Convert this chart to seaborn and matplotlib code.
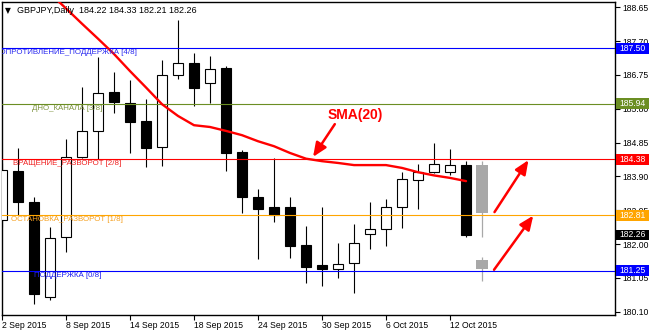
import numpy as np
import pandas as pd
import matplotlib
matplotlib.use("Agg")
import matplotlib.pyplot as plt
import seaborn as sns
from matplotlib.patches import Rectangle
from matplotlib.transforms import blended_transform_factory

sns.set_theme(style="white")
plt.rcParams['font.family'] = ['Liberation Sans', 'DejaVu Sans']

# ---------------- data ----------------
opens  = [182.68, 184.05, 183.18, 180.51, 182.20, 184.45, 185.18, 186.27, 185.96, 185.46,
          184.73, 186.75, 187.09, 186.52, 186.95, 184.59, 183.32, 183.04, 183.04, 181.97,
          181.41, 181.30, 181.47, 182.28, 182.42, 183.04, 183.80, 184.02, 184.02, 184.22]
highs  = [184.28, 184.70, 183.32, 182.48, 184.95, 186.41, 187.25, 186.83, 186.61, 186.07,
          187.17, 188.29, 187.37, 187.28, 187.00, 184.64, 183.55, 184.42, 183.32, 182.51,
          183.04, 182.03, 182.56, 183.18, 183.26, 184.02, 184.25, 184.84, 184.67, 184.33]
lows   = [182.48, 182.82, 180.32, 180.43, 181.78, 184.42, 184.39, 185.68, 184.56, 184.16,
          184.19, 186.64, 185.88, 185.96, 184.05, 182.87, 181.58, 182.62, 181.61, 180.91,
          180.82, 181.05, 180.62, 181.86, 181.95, 182.45, 182.98, 184.00, 183.94, 182.21]
closes = [184.08, 183.18, 180.60, 182.17, 184.45, 185.18, 186.24, 185.99, 185.43, 184.70,
          186.75, 187.09, 186.38, 186.92, 184.56, 183.32, 182.98, 182.82, 181.95, 181.35,
          181.30, 181.44, 182.03, 182.42, 183.04, 183.83, 184.02, 184.25, 184.22, 182.26]

sma_index = list(range(2, 30))
sma_values = [189.46, 189.04, 188.62, 188.19, 187.77, 187.34, 186.86, 186.40, 185.93, 185.60,
              185.34, 185.29, 185.18, 185.06, 184.89, 184.75, 184.56, 184.40, 184.33, 184.28,
              184.22, 184.22, 184.22, 184.14, 184.02, 183.93, 183.86, 183.77]

# projected (grey) candles
proj_index = [30, 30]
proj_top = [184.22, 181.55]
proj_bottom = [182.87, 181.31]
proj_high = [184.33, 181.65]
proj_low = [182.21, 180.97]

levels = [187.50, 185.94, 184.38, 182.81, 181.25]
level_names = ['СОПРОТИВЛЕНИЕ_ПОДДЕРЖКА [4/8]', 'ДНО_КАНАЛА [3/8]',
               'ВРАЩЕНИЕ_РАЗВОРОТ [2/8]', 'ОСТАНОВКА_РАЗВОРОТ [1/8]', 'ПОДДЕРЖКА [0/8]']
level_colors = ['#0000FF', '#6B8E23', '#FF0000', '#FFA500', '#0000FF']
level_text_colors = ['#2A2AF0', '#7F9440', '#F02020', '#F5A020', '#2020F0']
level_label_x = [-0.52, 1.85, 0.68, 0.56, 1.98]

last_price = 182.26

tick_pos = [0, 4, 8, 12, 16, 20, 24, 28]
tick_labels = ['2 Sep 2015', '8 Sep 2015', '14 Sep 2015', '18 Sep 2015',
               '24 Sep 2015', '30 Sep 2015', '6 Oct 2015', '12 Oct 2015']
ytick_vals = [188.65, 187.70, 186.75, 185.80, 184.85, 183.90, 182.95, 182.00, 181.05, 180.10]

header = 'GBPJPY,Daily  184.22 184.33 182.21 182.26'

# arrows: (start, end) in data coordinates
arrow_starts = [(30.78, 182.90), (30.75, 181.28)]
arrow_ends = [(32.9, 184.36), (33.2, 182.80)]
sma_label_pos = (22.1, 185.62)
sma_arrow_start = (20.8, 185.37)
sma_arrow_end = (19.44, 184.45)

# ---------------- figure ----------------
W, H = 650, 331
fig = plt.figure(figsize=(W / 100, H / 100), dpi=100)
fig.patch.set_facecolor('white')
ax = fig.add_axes([1.5 / W, 1 - 315 / H, 613.5 / W, 313 / H])
ax.set_facecolor('white')

df = pd.DataFrame({'i': range(len(opens)), 'o': opens, 'h': highs, 'l': lows, 'c': closes})
df['bull'] = df['c'] >= df['o']
df['bottom'] = df[['o', 'c']].min(axis=1)
df['height'] = (df['c'] - df['o']).abs()

bw = 0.66
ax.vlines(df['i'], df['l'], df['h'], color='black', lw=0.8, zorder=2)
ax.bar(df['i'], df['height'].clip(lower=0.02), bottom=df['bottom'], width=bw,
       color=np.where(df['bull'], 'white', 'black'), edgecolor='black', linewidth=0.8, zorder=3)

# projected grey candles
ax.vlines(proj_index, proj_low, proj_high, color='#A8A8A8', lw=0.9, zorder=2)
ax.bar(proj_index, np.array(proj_top) - np.array(proj_bottom), bottom=proj_bottom, width=bw + 0.05,
       color='#A8A8A8', edgecolor='none', zorder=3)

# SMA line
sns.lineplot(x=sma_index, y=sma_values, color='#FF0000', lw=1.7, ax=ax, zorder=5)

# horizontal levels
for lv, col in zip(levels, level_colors):
    ax.axhline(lv, color=col, lw=0.8, zorder=4)
for lv, name, tc, lx in zip(levels, level_names, level_text_colors, level_label_x):
    ax.annotate(name, xy=(lx, lv), xytext=(0, -0.6), textcoords='offset points',
                ha='left', va='top', fontsize=5.7, color=tc, zorder=6,
                annotation_clip=False, clip_on=True)

# arrows
for s, e in zip(arrow_starts, arrow_ends):
    ax.annotate('', xy=e, xytext=s,
                arrowprops=dict(arrowstyle='-|>,head_length=0.7,head_width=0.3', color='#FF0000',
                                lw=1.8, shrinkA=0, shrinkB=0), zorder=7)
ax.text(*sma_label_pos, 'SMA(20)', color='#FF0000', fontsize=10, fontweight='bold',
        ha='center', va='center', zorder=7)
ax.annotate('', xy=sma_arrow_end, xytext=sma_arrow_start,
            arrowprops=dict(arrowstyle='-|>,head_length=0.7,head_width=0.3', color='#FF0000',
                            lw=1.8, shrinkA=0, shrinkB=0), zorder=7)

# axes limits and ticks
ax.set_xlim(-0.03, 38.31)
ax.set_ylim(180.01, 188.80)
ax.yaxis.tick_right()
ax.set_yticks(ytick_vals)
ax.set_yticklabels([f'{v:.2f}' for v in ytick_vals])
ax.set_xticks(tick_pos)
ax.set_xticklabels(tick_labels, ha='left')
ax.tick_params(axis='y', which='both', right=True, left=False, direction='out', length=3.5,
               width=0.8, color='black', labelsize=6.2, pad=1.5, labelcolor='black')
ax.tick_params(axis='x', which='both', bottom=True, direction='out', length=3.5,
               width=0.8, color='black', labelsize=6.2, pad=1.0, labelcolor='black')
ax.set_xlabel('')
ax.set_ylabel('')
for sp in ax.spines.values():
    sp.set_visible(True)
    sp.set_color('black')
    sp.set_linewidth(1.0)
ax.grid(False)

# right-side price boxes
trans = blended_transform_factory(ax.transAxes, ax.transData)
box_w = 33 / 613.5
box_h = 10.7 / 35.6
box_levels = levels + [last_price]
box_colors = level_colors + ['#000000']
for lv, col in zip(box_levels, box_colors):
    ax.add_patch(Rectangle((1.0 + 1 / 613.5, lv - box_h / 2), box_w, box_h, transform=trans,
                           facecolor=col, edgecolor='none', clip_on=False, zorder=8))
    ax.text(1.0 + 1 / 613.5 + box_w / 2, lv, f'{lv:.2f}', transform=trans, color='white',
            fontsize=6.2, ha='center', va='center', clip_on=False, zorder=9)

# header
fig.text(5 / W, 1 - 10.5 / H, '\u25BC', fontsize=5.5, family=['DejaVu Sans'], color='black',
         ha='left', va='center')
fig.text(17 / W, 1 - 10.5 / H, header, fontsize=6.5, color='black', ha='left', va='center')

fig.savefig('out.png', dpi=100, facecolor='white')
